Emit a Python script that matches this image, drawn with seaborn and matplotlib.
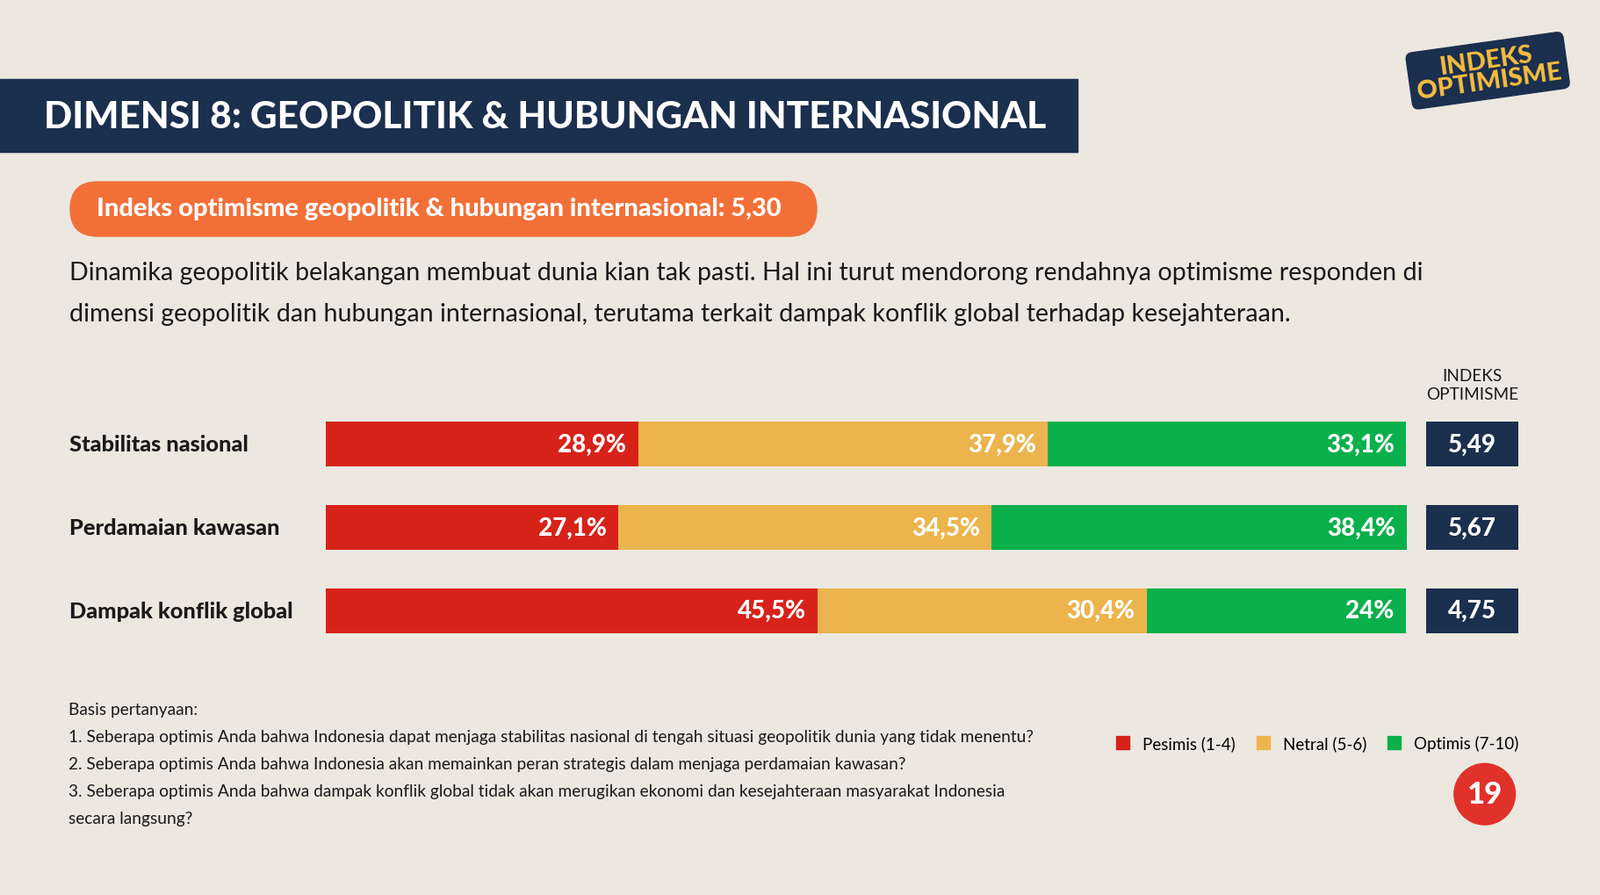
import matplotlib
matplotlib.use("Agg")
import matplotlib.pyplot as plt
import matplotlib.patches as mpatches
import matplotlib.transforms as mtrans
import seaborn as sns
import pandas as pd

categories = ["Stabilitas nasional", "Perdamaian kawasan", "Dampak konflik global"]
pesimis = [28.9, 27.1, 45.5]
netral = [37.9, 34.5, 30.4]
optimis = [33.1, 38.4, 24.0]
indeks = ["5,49", "5,67", "4,75"]
pes_labels = ["28,9%", "27,1%", "45,5%"]
net_labels = ["37,9%", "34,5%", "30,4%"]
opt_labels = ["33,1%", "38,4%", "24%"]
legend_labels = ["Pesimis (1-4)", "Netral (5-6)", "Optimis (7-10)"]

RED, YEL, GRN, NAVY, ORG, BG = "#d7221a", "#ecb44c", "#0ab04b", "#1b2f4e", "#f27038", "#ece8e0"
FONT = "Lato"
W, H = 1822, 1020
S = 1822 / 1568

def fx(x): return x * S / W
def fy(y): return 1 - y * S / H

fig = plt.figure(figsize=(18.22, 10.20), dpi=100, facecolor=BG)

# Title banner
fig.patches.append(mpatches.Rectangle((0, fy(150)), fx(1056), fy(78) - fy(150), transform=fig.transFigure, color=NAVY))
fig.text(fx(43), fy(115), "DIMENSI 8: GEOPOLITIK & HUBUNGAN INTERNASIONAL", color="white",
         fontsize=30.5, fontweight="heavy", family=FONT, va="center")
# Orange pill (pixel coordinates)
fig.patches.append(mpatches.FancyBboxPatch((80, H - 270), 850, 62,
                   boxstyle="round,pad=0,rounding_size=31", transform=None, color=ORG))
fig.text(fx(95), fy(205), "Indeks optimisme geopolitik & hubungan internasional: 5,30", color="white",
         fontsize=21, fontweight="heavy", family=FONT, va="center")
fig.text(fx(68), fy(268), "Dinamika geopolitik belakangan membuat dunia kian tak pasti. Hal ini turut mendorong rendahnya optimisme responden di",
         fontsize=20.6, family=FONT, va="center", color="#1a1a1a")
fig.text(fx(68), fy(308), "dimensi geopolitik dan hubungan internasional, terutama terkait dampak konflik global terhadap kesejahteraan.",
         fontsize=20.6, family=FONT, va="center", color="#1a1a1a")

# Bars
ax = fig.add_axes([fx(319), fy(640), fx(1379) - fx(319), fy(395) - fy(640)])
ax.set_facecolor("none")
df = pd.DataFrame({"cat": categories, "p": pesimis, "n": netral, "o": optimis})
df["pn"] = df["p"] + df["n"]
df["all"] = df["pn"] + df["o"]
sns.barplot(data=df, y="cat", x="all", color=GRN, width=0.54, ax=ax, saturation=1)
sns.barplot(data=df, y="cat", x="pn", color=YEL, width=0.54, ax=ax, saturation=1)
sns.barplot(data=df, y="cat", x="p", color=RED, width=0.54, ax=ax, saturation=1)
ax.set_xlim(0, df["all"].max())
lab_tr = mtrans.blended_transform_factory(fig.transFigure, ax.transData)
for i in range(len(categories)):
    for xv, lab in [(df["p"][i], pes_labels[i]), (df["pn"][i], net_labels[i]), (df["all"][i], opt_labels[i])]:
        ax.text(xv - 1.1, i, lab, color="white", fontsize=20, fontweight="heavy", family=FONT, va="center", ha="right")
    ax.text(fx(68), i, categories[i], fontsize=18.3, fontweight="heavy", family=FONT, va="center", ha="left",
            transform=lab_tr, color="#1a1a1a")
ax.set_axis_off()

# Index boxes
axi = fig.add_axes([fx(1398), fy(640), fx(1488) - fx(1398), fy(395) - fy(640)], sharey=ax)
axi.set_facecolor("none")
sns.barplot(y=categories, x=[1, 1, 1], color=NAVY, width=0.54, ax=axi, saturation=1)
axi.set_xlim(0, 1)
for i, v in enumerate(indeks):
    axi.text(0.5, i, v, color="white", fontsize=20, fontweight="heavy", family=FONT, ha="center", va="center")
axi.set_axis_off()
fig.text(fx(1443), fy(378), "INDEKS\nOPTIMISME", ha="center", va="center", fontsize=13.7, family=FONT,
         color="#1a1a1a", linespacing=1.3)

# Notes
notes = ["Basis pertanyaan:",
         "1. Seberapa optimis Anda bahwa Indonesia dapat menjaga stabilitas nasional di tengah situasi geopolitik dunia yang tidak menentu?",
         "2. Seberapa optimis Anda bahwa Indonesia akan memainkan peran strategis dalam menjaga perdamaian kawasan?",
         "3. Seberapa optimis Anda bahwa dampak konflik global tidak akan merugikan ekonomi dan kesejahteraan masyarakat Indonesia",
         "secara langsung?"]
for k, t in enumerate(notes):
    fig.text(fx(67), fy(696 + k * 26.7), t, fontsize=13.8, family=FONT, va="center", color="#1a1a1a")

# Legend
handles = [mpatches.Patch(color=c, label=l) for c, l in zip([RED, YEL, GRN], legend_labels)]
fig.legend(handles=handles, loc="center", bbox_to_anchor=(fx(1291), fy(729)), ncol=3, frameon=False,
           prop={"family": FONT, "size": 13.5}, handlelength=0.8, handleheight=0.8, columnspacing=1.3, handletextpad=0.8)

# Page number
fig.patches.append(mpatches.Ellipse((fx(1455), fy(779)), 60 * S / W, 60 * S / H, transform=fig.transFigure, color="#e0312a"))
fig.text(fx(1455), fy(779), "19", ha="center", va="center", color="white", fontsize=25, fontweight="heavy", family=FONT)

# Logo
fig.text(fx(1458), fy(70), "INDEKS\nOPTIMISME", ha="center", va="center", color="#f5be3e", fontsize=21,
         fontweight="heavy", family=FONT, rotation=8, linespacing=0.9,
         bbox=dict(boxstyle="round,pad=0.25", fc=NAVY, ec=NAVY))

fig.savefig("out.png", dpi=100, facecolor=BG)
